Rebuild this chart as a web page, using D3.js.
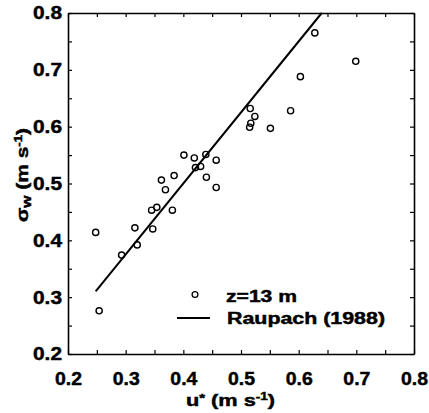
<!DOCTYPE html>
<html><head><meta charset="utf-8">
<script src="https://cdn.jsdelivr.net/npm/d3@7"></script>
<style>
body{margin:0;background:#fff}
svg{display:block}
text{font-family:"Liberation Sans",Arial,Helvetica,sans-serif;font-weight:bold;fill:#000;stroke:#000;stroke-width:0.45px}
</style>
</head><body>
<svg id="chart" width="429" height="413"></svg>
<script>
// observed data, z = 13 m
const uStar  = [0.248,0.254,0.293,0.316,0.320,0.345,0.347,0.354,0.381,0.362,0.369,0.384,0.401,0.419,0.439,0.421,0.430,0.440,0.457,0.457,0.516,0.524,0.517,0.515,0.551,0.586,0.603,0.628,0.699];
const sigmaW = [0.414,0.276,0.374,0.422,0.392,0.453,0.420,0.458,0.453,0.506,0.489,0.514,0.550,0.545,0.551,0.528,0.530,0.511,0.541,0.493,0.632,0.618,0.606,0.599,0.597,0.628,0.688,0.765,0.715];
// Raupach (1988) line
const fitU     = [0.248, 0.640];
const fitSigma = [0.310, 0.800];
// ticks
const majorTicks = [0.2,0.3,0.4,0.5,0.6,0.7,0.8];
const tickLabels = ["0.2","0.3","0.4","0.5","0.6","0.7","0.8"];
const minorTicks = [0.25,0.35,0.45,0.55,0.65,0.75];
const legendLabels = ["z=13 m","Raupach (1988)"];

const svg = d3.select("#chart");
const x = d3.scaleLinear().domain([0.2,0.8]).range([68,414]);
const y = d3.scaleLinear().domain([0.2,0.8]).range([354,13]);
const allTicks = majorTicks.concat(minorTicks);
const lab = v => { const i = majorTicks.findIndex(t => Math.abs(t-v)<1e-9); return i>=0 ? tickLabels[i] : ""; };

function styleAxis(g){
  g.selectAll(".domain").attr("stroke","#000").attr("stroke-width",1.6);
  g.selectAll(".tick line").attr("stroke","#000").attr("stroke-width",1.2);
  g.selectAll("text").attr("font-family",null).attr("font-size",null);
}

const gB = svg.append("g").attr("transform","translate(0,354)")
  .call(d3.axisBottom(x).tickValues(allTicks).tickSize(-4).tickSizeOuter(0).tickPadding(18).tickFormat(lab));
styleAxis(gB);
gB.selectAll("text").style("font-size","18.5px").each(function(){ if(this.textContent) d3.select(this).attr("textLength",27).attr("lengthAdjust","spacingAndGlyphs"); });

const gL = svg.append("g").attr("transform","translate(68,0)")
  .call(d3.axisLeft(y).tickValues(allTicks).tickSize(-4).tickSizeOuter(0).tickPadding(6).tickFormat(lab));
styleAxis(gL);
gL.selectAll("text").style("font-size","18.5px").each(function(){ if(this.textContent) d3.select(this).attr("textLength",29).attr("lengthAdjust","spacingAndGlyphs"); });

const gT = svg.append("g").attr("transform","translate(0,13)")
  .call(d3.axisTop(x).tickValues(allTicks).tickSize(-4).tickSizeOuter(0).tickFormat(""));
styleAxis(gT);
const gR = svg.append("g").attr("transform","translate(414,0)")
  .call(d3.axisRight(y).tickValues(allTicks).tickSize(-4).tickSizeOuter(0).tickFormat(""));
styleAxis(gR);

// fit line
svg.append("path")
  .datum(d3.zip(fitU, fitSigma))
  .attr("fill","none").attr("stroke","#000").attr("stroke-width",2)
  .attr("d", d3.line().x(d=>x(d[0])).y(d=>y(d[1])));

// points
svg.append("g").selectAll("circle")
  .data(d3.zip(uStar, sigmaW))
  .join("circle")
  .attr("cx", d=>x(d[0])).attr("cy", d=>y(d[1])).attr("r",3.1)
  .attr("fill","none").attr("stroke","#000").attr("stroke-width",1.4);

// legend
svg.append("circle").attr("cx",195).attr("cy",294.5).attr("r",2.9)
  .attr("fill","none").attr("stroke","#000").attr("stroke-width",1.3);
svg.append("line").attr("x1",177).attr("x2",210).attr("y1",318).attr("y2",318)
  .attr("stroke","#000").attr("stroke-width",2);
svg.append("text").attr("x",226).attr("y",302).style("font-size","16px")
  .attr("textLength",71).attr("lengthAdjust","spacingAndGlyphs").text(legendLabels[0]);
svg.append("text").attr("x",227).attr("y",324).style("font-size","16px")
  .attr("textLength",158).attr("lengthAdjust","spacingAndGlyphs").text(legendLabels[1]);

// x title
const xt = svg.append("text").attr("x",186).attr("y",406).style("font-size","16px")
  .attr("textLength",89).attr("lengthAdjust","spacingAndGlyphs");
xt.append("tspan").text("u");
xt.append("tspan").attr("dy",-4).style("font-size","11px").text("*");
xt.append("tspan").attr("dy",4).text(" (m s");
xt.append("tspan").attr("dy",-6).style("font-size","10px").text("-1");
xt.append("tspan").attr("dy",6).text(")");

// y title
const yt = svg.append("text").attr("transform","translate(28,222) rotate(-90)").style("font-size","16px")
  .attr("textLength",94).attr("lengthAdjust","spacingAndGlyphs");
yt.append("tspan").text("σ");
yt.append("tspan").attr("dy",3).style("font-size","12px").text("w");
yt.append("tspan").attr("dy",-3).text(" (m s");
yt.append("tspan").attr("dy",-6).style("font-size","10px").text("-1");
yt.append("tspan").attr("dy",6).text(")");
</script>
</body></html>
